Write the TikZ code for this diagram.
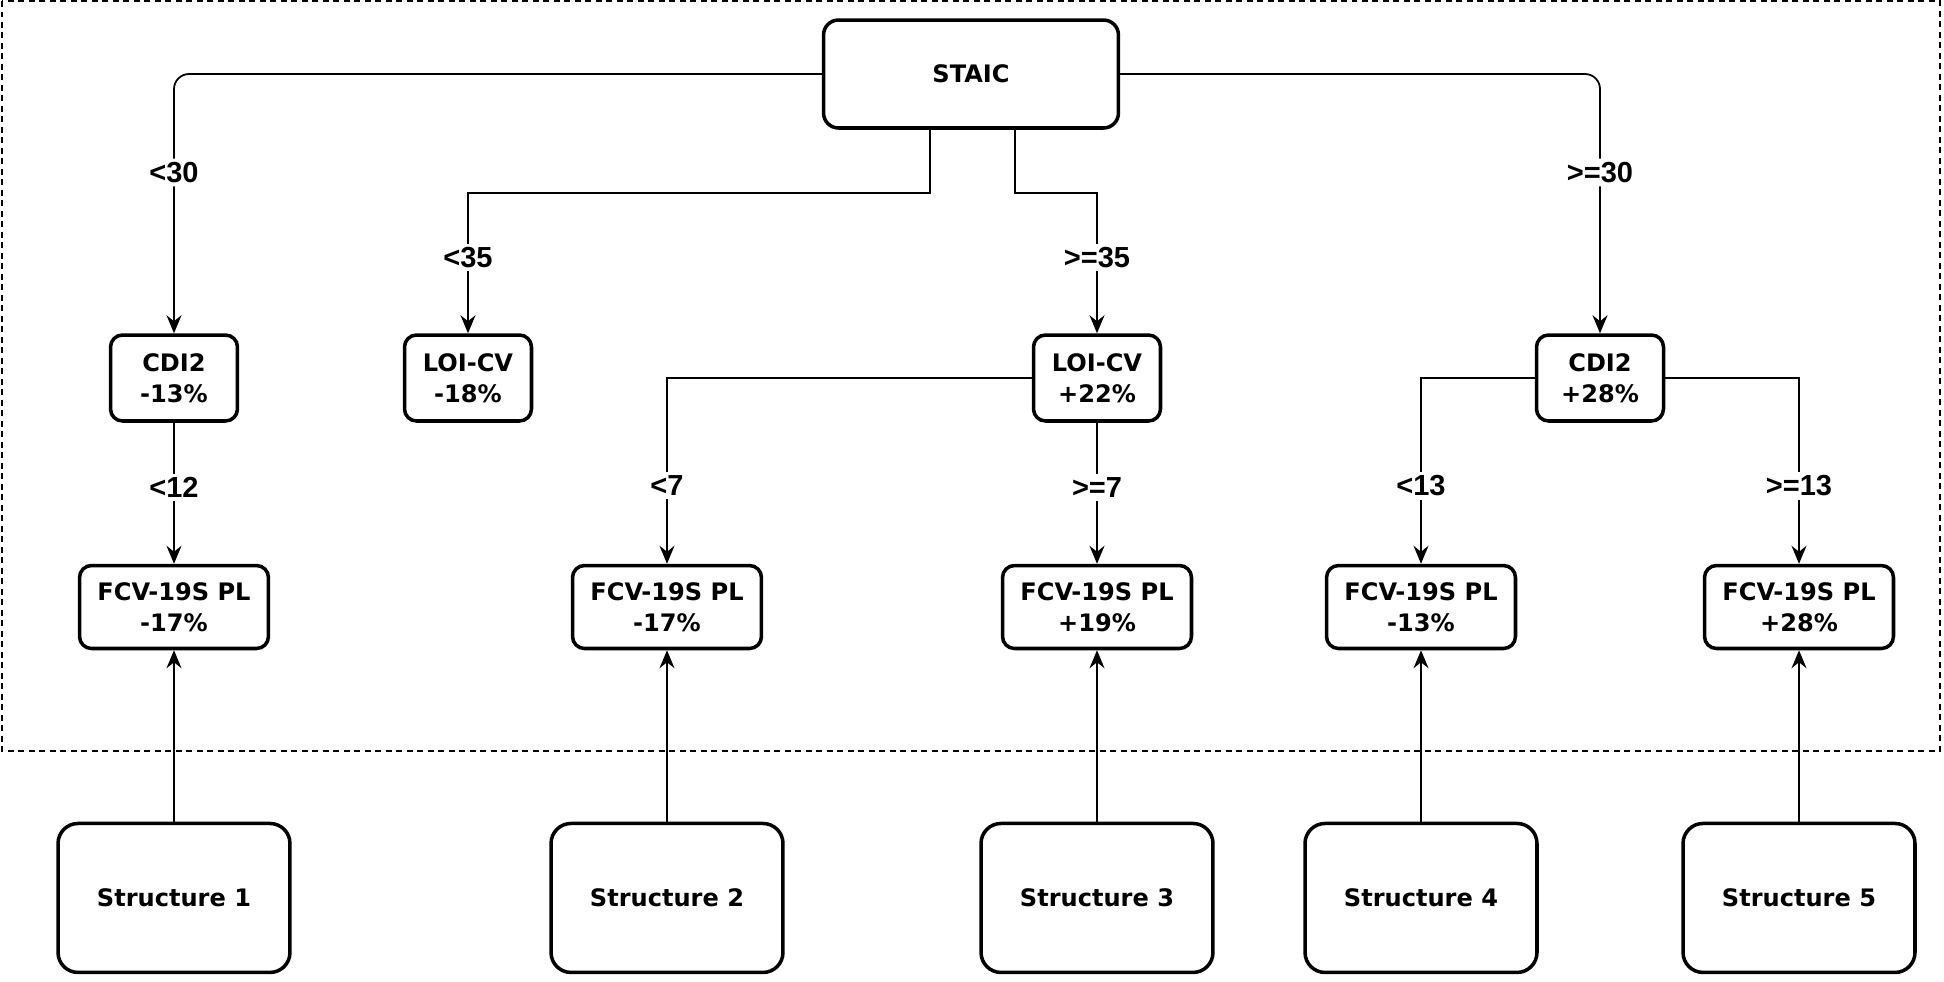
\documentclass[tikz,border=0pt]{standalone}
\usepackage{fontspec}
\setmainfont{DejaVu Sans}
\newfontfamily\lblfont{Liberation Sans}
\usetikzlibrary{arrows.meta}
\begin{document}
\begin{tikzpicture}[x=0.02cm,y=-0.02cm]
\path[use as bounding box] (0,0) rectangle (1944,981);

\tikzstyle{every node}+=[font=\bfseries\fontsize{13.7}{17.5}\selectfont,align=center]
\tikzstyle{every path}+=[line width=1pt]
\tikzstyle{box}=[draw,line width=2pt,rounded corners=0.24cm,minimum width=2.54cm,minimum height=1.72cm]
\tikzstyle{fcv}=[box,minimum width=3.78cm,minimum height=1.66cm]
\tikzstyle{strbox}=[box,rounded corners=0.4cm,minimum width=4.64cm,minimum height=2.98cm,node distance=5.82cm]
\tikzstyle{lbl}=[font=\lblfont\bfseries\fontsize{16.5}{18}\selectfont,fill=white,inner sep=2pt]
\tikzstyle{arr}=[-{Stealth[length=0.36cm,width=0.3cm,inset=0.12cm]}]

\draw[dash pattern=on 0.12cm off 0.09cm] (2,1) rectangle (1940,751);

\node[box,minimum width=5.9cm,minimum height=2.16cm,rounded corners=0.3cm] (staic) at (971,74) {STAIC};
\node[box] (cdia) at (174,378) {CDI2\\-13\%};
\node[box] (loia) at (468,378) {LOI-CV\\-18\%};
\node[box] (loib) at (1097,378) {LOI-CV\\+22\%};
\node[box] (cdib) at (1600,378) {CDI2\\+28\%};

\node[fcv] (fcva) at (174,607) {FCV-19S PL\\-17\%};
\node[fcv] (fcvb) at (667,607) {FCV-19S PL\\-17\%};
\node[fcv] (fcvc) at (1097,607) {FCV-19S PL\\+19\%};
\node[fcv] (fcvd) at (1421,607) {FCV-19S PL\\-13\%};
\node[fcv] (fcve) at (1799,607) {FCV-19S PL\\+28\%};

\node[strbox,below of=fcva] (sa) {Structure 1};
\node[strbox,below of=fcvb] (sb) {Structure 2};
\node[strbox,below of=fcvc] (sc) {Structure 3};
\node[strbox,below of=fcvd] (sd) {Structure 4};
\node[strbox,below of=fcve] (se) {Structure 5};

\draw[arr,rounded corners=0.3cm] (staic.west) -| node[lbl,pos=0.69] {<30} (cdia);
\draw[arr,rounded corners=0.3cm] (staic.east) -| node[lbl,pos=0.69] {>=30} (cdib);
\draw[arr] ([xshift=-0.82cm]staic.south) -- ++(0,63) -| node[lbl,pos=0.73] {<35} (loia);
\draw[arr] ([xshift=0.88cm]staic.south) -- ++(0,63) -| node[lbl,pos=0.73] {>=35} (loib);

\draw[arr] (cdia) -- node[lbl,pos=0.46] {<12} (fcva);
\draw[arr] (loib.west) -| node[lbl,pos=0.79] {<7} (fcvb);
\draw[arr] (loib) -- node[lbl,pos=0.46] {>=7} (fcvc);
\draw[arr] (cdib.west) -| node[lbl,pos=0.79] {<13} (fcvd);
\draw[arr] (cdib.east) -| node[lbl,pos=0.79] {>=13} (fcve);

\draw[arr] (sa) edge (fcva)
      (sb) edge (fcvb)
      (sc) edge (fcvc)
      (sd) edge (fcvd)
      (se) edge (fcve);
\end{tikzpicture}
\end{document}
